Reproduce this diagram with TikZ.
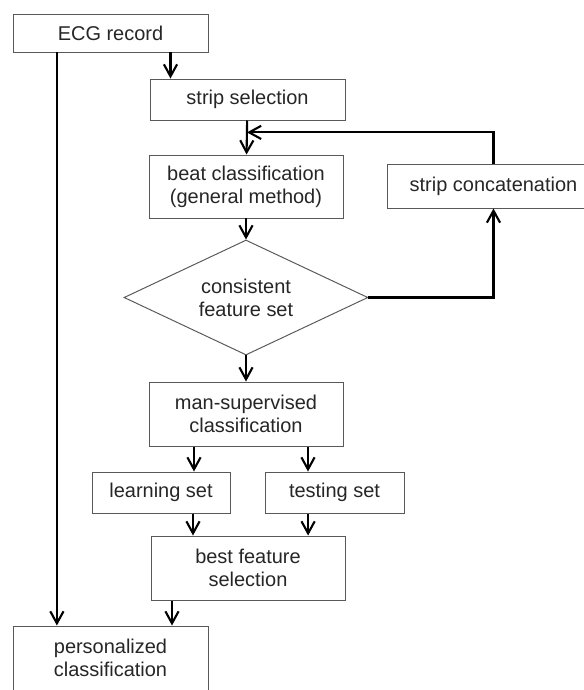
\documentclass[tikz,border=0pt]{standalone}
\usepackage{fontspec}
\setmainfont{Liberation Sans}
\usetikzlibrary{shapes.geometric,arrows.meta,calc}

\begin{document}
\begin{tikzpicture}[
    box/.style={draw=black!65, line width=0.7pt, rectangle, minimum width=4.85cm, minimum height=1.6cm, align=center, inner sep=2pt, font=\fontsize{14.2}{16.5}\selectfont, text=black!85},
    decision/.style={box, diamond, aspect=2, minimum width=6.1cm, minimum height=2.875cm, inner sep=0pt},
    arrow/.style={-{Straight Barb[length=3mm,width=3.3mm]}, line width=1.5pt}
]
\useasboundingbox (0,0) rectangle (14.6,-17.25);

\node[box, minimum width=4.875cm, minimum height=0.95cm] (ecg) at (2.7625,-0.825) {ECG record};
\node[box, minimum width=4.875cm, minimum height=1.025cm] (sel) at (6.1875,-2.4875) {strip selection};
\node[box, minimum height=1.575cm] (beat) at (6.15,-4.6625) {beat classification\\(general method)};
\node[box, minimum width=5.325cm, minimum height=1.1cm] (concat) at (12.3375,-4.65) {strip concatenation};
\node[decision] (dec) at (6.15,-7.4375) {consistent\\feature set};
\node[box] (man) at (6.15,-10.35) {man-supervised\\classification};
\node[box, minimum width=3.45cm, minimum height=1.025cm] (learn) at (4.025,-12.3125) {learning set};
\node[box, minimum width=3.475cm, minimum height=1.025cm] (test) at (8.3625,-12.3125) {testing set};
\node[box] (best) at (6.2,-14.2) {best feature\\selection};
\node[box, minimum width=4.875cm] (pers) at (2.7625,-16.45) {personalized\\classification};

\coordinate (join) at ($(sel.south)!0.35!(beat.north)$);

\draw[arrow] ([xshift=1.5cm]ecg.south) -- ([xshift=1.5cm]ecg.south |- sel.north);
\draw[arrow] ([xshift=-1.34cm]ecg.south) -- ([xshift=-1.34cm]ecg.south |- pers.north);
\draw[arrow] (sel) -- (beat);
\draw[arrow] (concat.north) |- (join);
\draw[arrow] (beat) -- (dec);
\draw[arrow] (dec.east) -| (concat.south);
\draw[arrow] (dec) -- (man);
\draw[arrow] ([xshift=-1.3cm]man.south) -- ([xshift=-1.3cm]man.south |- learn.north);
\draw[arrow] ([xshift=1.55cm]man.south) -- ([xshift=1.55cm]man.south |- test.north);
\draw[arrow] ([xshift=0.8cm]learn.south) -- ([xshift=0.8cm]learn.south |- best.north);
\draw[arrow] ([xshift=-0.66cm]test.south) -- ([xshift=-0.66cm]test.south |- best.north);
\draw[arrow] ([xshift=-1.9cm]best.south) -- ([xshift=-1.9cm]best.south |- pers.north);
\end{tikzpicture}
\end{document}
